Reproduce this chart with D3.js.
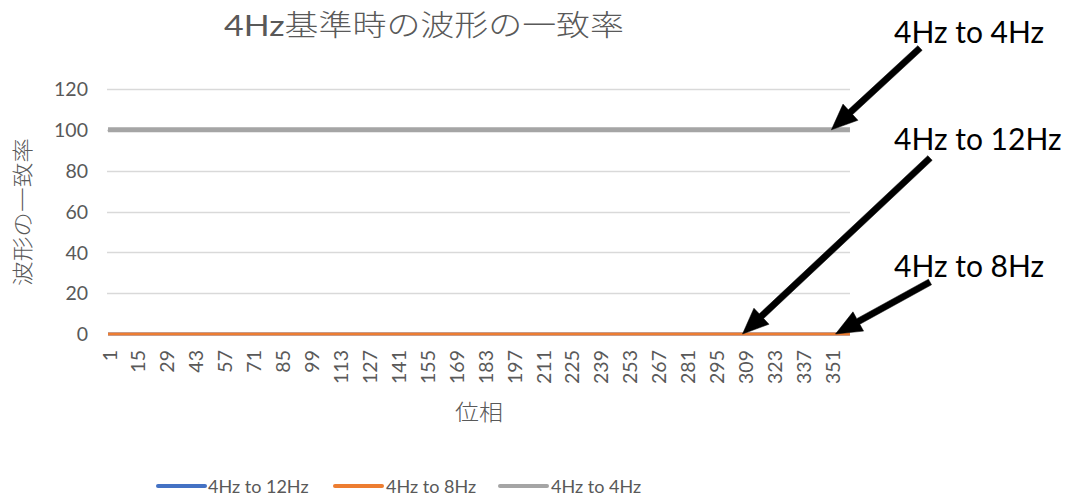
<!DOCTYPE html>
<html>
<head>
<meta charset="utf-8">
<script src="https://cdn.jsdelivr.net/npm/d3@7"></script>
<style>
  html, body { margin: 0; padding: 0; background: #ffffff; }
  svg { display: block; }
  text { font-family: Lato, "Noto Sans CJK JP", sans-serif; }
</style>
</head>
<body>
<div id="chart"></div>
<script>
// ---------- data ----------
const phaseCategories = d3.range(1, 361);              // 位相 1..360
const seriesNames = ["4Hz to 12Hz", "4Hz to 8Hz", "4Hz to 4Hz"];
const seriesColors = ["#4472C4", "#ED7D31", "#A5A5A5"];
const values4to12 = phaseCategories.map(() => 0);
const values4to8 = phaseCategories.map(() => 0);
const values4to4 = phaseCategories.map(() => 100);
const yTicks = [0, 20, 40, 60, 80, 100, 120];
const xTickLabels = phaseCategories.filter((d, i) => i % 14 === 0); // 1,15,29,...,351
const titleText = "4Hz基準時の波形の一致率";
const xTitle = "位相";
const yTitle = "波形の一致率";
const annotationLabels = ["4Hz to 4Hz", "4Hz to 12Hz", "4Hz to 8Hz"];
const annotationTargetCats = [351, 308, 353];
const annotationTargetVals = [100, 0, 0];

// ---------- layout ----------
const W = 1074, H = 500;
const plot = { left: 107, right: 851, top: 89, bottom: 334 };
const svg = d3.select("#chart").append("svg").attr("width", W).attr("height", H);

const x = d3.scaleBand().domain(phaseCategories).range([plot.left, plot.right]).padding(0);
const xc = d => x(d) + x.bandwidth() / 2;
const y = d3.scaleLinear().domain([0, 120]).range([plot.bottom, plot.top]);

const textColor = "#595959";
const cjk = "'Noto Sans CJK JP', sans-serif";

// title
const title = svg.append("text")
  .attr("x", 424).attr("y", 36)
  .attr("text-anchor", "middle")
  .attr("font-size", 29).attr("fill", textColor)
  .attr("textLength", 400).attr("lengthAdjust", "spacingAndGlyphs");
title.append("tspan").attr("font-family", "Lato, sans-serif").text(titleText.slice(0, 3));
title.append("tspan").attr("font-family", cjk).attr("font-weight", 300).text(titleText.slice(3));

// gridlines
svg.append("g").selectAll("line").data(yTicks.filter(t => t !== 0)).join("line")
  .attr("x1", plot.left).attr("x2", plot.right - 1)
  .attr("y1", d => Math.round(y(d)) + 0.5).attr("y2", d => Math.round(y(d)) + 0.5)
  .attr("stroke", "#D9D9D9").attr("stroke-width", 1.5);

// y axis
const yAxis = svg.append("g").attr("transform", `translate(${plot.left - 19},0)`)
  .call(d3.axisLeft(y).tickValues(yTicks).tickSize(0).tickPadding(0));
yAxis.select(".domain").remove();
yAxis.selectAll("text").attr("font-size", 19.5).attr("fill", textColor)
  .attr("font-family", "Lato, sans-serif").attr("dy", "0.35em");

// x axis (labels only)
const xAxis = svg.append("g").attr("transform", `translate(0,${plot.bottom + 16})`)
  .call(d3.axisBottom(x).tickValues(xTickLabels).tickSize(0).tickPadding(0));
xAxis.select(".domain").remove();
xAxis.selectAll("text")
  .attr("font-size", 19.5).attr("fill", textColor).attr("font-family", "Lato, sans-serif")
  .attr("transform", "rotate(-90)")
  .attr("text-anchor", "end")
  .attr("x", 0).attr("y", 1.5).attr("dy", "0.36em").attr("dx", 0);

// axis titles
svg.append("text")
  .attr("x", 479).attr("y", 420).attr("text-anchor", "middle")
  .attr("font-size", 22).attr("fill", textColor)
  .attr("font-family", cjk).attr("font-weight", 300)
  .attr("textLength", 48).attr("lengthAdjust", "spacingAndGlyphs")
  .text(xTitle);
svg.append("text")
  .attr("transform", "translate(30,212) rotate(-90)")
  .attr("text-anchor", "middle")
  .attr("font-size", 21).attr("fill", textColor)
  .attr("font-family", cjk).attr("font-weight", 300)
  .attr("textLength", 148).attr("lengthAdjust", "spacingAndGlyphs")
  .text(yTitle);

// series lines (gray first, then blue, then orange on top)
const allSeries = [values4to12, values4to8, values4to4];
const widths = [3, 3, 5];
const order = [2, 0, 1];
const line = d3.line().x((d, i) => xc(phaseCategories[i])).y(d => y(d));
order.forEach(si => {
  svg.append("path").datum(allSeries[si])
    .attr("d", line)
    .attr("fill", "none")
    .attr("stroke", seriesColors[si])
    .attr("stroke-width", widths[si])
    .attr("stroke-linejoin", "round");
});

// legend
const legendItems = [
  { x: 158, text: 208 },
  { x: 335, text: 386 },
  { x: 500, text: 551 }
];
const lg = svg.append("g");
seriesNames.forEach((name, i) => {
  lg.append("line")
    .attr("x1", legendItems[i].x).attr("x2", legendItems[i].x + 47)
    .attr("y1", 486).attr("y2", 486)
    .attr("stroke", seriesColors[i]).attr("stroke-width", 4)
    .attr("stroke-linecap", "round");
  lg.append("text")
    .attr("x", legendItems[i].text).attr("y", 493)
    .attr("font-size", 18).attr("fill", textColor)
    .text(name);
});

// annotations: text + thick arrows
const annTextPos = [[894, 43], [894, 150], [894, 277]];
const annTailPos = [[920, 48], [930, 158], [930, 282]];
function arrow(g, x1, y1, x2, y2) {
  const dx = x2 - x1, dy = y2 - y1, L = Math.hypot(dx, dy);
  const ux = dx / L, uy = dy / L, px = -uy, py = ux;
  const headL = 26, headW = 11, shaftW = 3.2;
  const bx = x2 - ux * headL, by = y2 - uy * headL;
  const pts = [
    [x1 + px * shaftW, y1 + py * shaftW],
    [bx + px * shaftW, by + py * shaftW],
    [bx + px * headW, by + py * headW],
    [x2, y2],
    [bx - px * headW, by - py * headW],
    [bx - px * shaftW, by - py * shaftW],
    [x1 - px * shaftW, y1 - py * shaftW]
  ];
  g.append("path").attr("d", "M" + pts.map(p => p.join(",")).join("L") + "Z")
    .attr("fill", "#000").attr("stroke", "#000").attr("stroke-width", 0.5)
    .attr("stroke-linejoin", "round");
}
const ag = svg.append("g");
annotationLabels.forEach((lab, i) => {
  ag.append("text")
    .attr("x", annTextPos[i][0]).attr("y", annTextPos[i][1])
    .attr("font-size", 30).attr("fill", "#000")
    .text(lab);
  arrow(ag, annTailPos[i][0], annTailPos[i][1],
        xc(annotationTargetCats[i]), y(annotationTargetVals[i]));
});
</script>
</body>
</html>
